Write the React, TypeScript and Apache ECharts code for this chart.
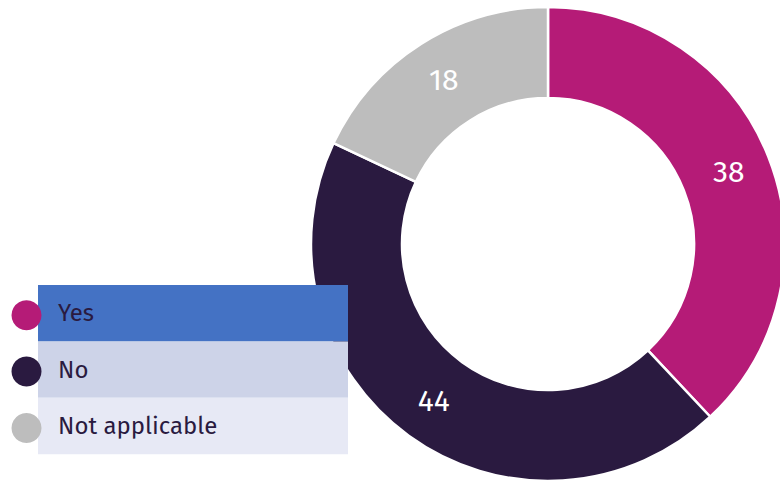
import React, { useEffect, useRef } from "react";
import * as echarts from "echarts";

const categories = ["Yes", "No", "Not applicable"];
const values = [38, 44, 18];
const sliceColors = ["#B51B77", "#2A1A40", "#BDBDBD"];
const legendBg = ["#4472C4", "#CDD3E8", "#E7E9F5"];

const FONT = "'Fira Sans', 'Noto Sans', 'Open Sans', sans-serif";

export default function App() {
  const ref = useRef<HTMLDivElement>(null);
  useEffect(() => {
    if (!ref.current) return;
    const chart = echarts.init(ref.current, undefined, { renderer: "svg" });
    const rowTop = 285;
    const rowH = 56.4;
    const graphics: any[] = [];
    categories.forEach((c, i) => {
      const y = rowTop + i * rowH;
      graphics.push({
        type: "rect",
        z: 100,
        shape: { x: 38, y, width: 310, height: rowH },
        style: { fill: legendBg[i] },
      });
      graphics.push({
        type: "circle",
        z: 101,
        shape: { cx: 26.5, cy: y + rowH / 2 + 2, r: 15 },
        style: { fill: sliceColors[i] },
      });
      graphics.push({
        type: "text",
        z: 102,
        x: 58,
        y: y + rowH / 2,
        style: {
          text: c,
          fill: "#2A1A40",
          font: `24px ${FONT}`,
          textVerticalAlign: "middle",
          textAlign: "left",
        },
      });
    });
    chart.setOption({
      animation: false,
      backgroundColor: "#ffffff",
      series: [
        {
          type: "pie",
          center: [548, 244],
          radius: [146, 237],
          startAngle: 90,
          clockwise: true,
          label: {
            show: true,
            position: "inside",
            formatter: "{c}",
            color: "#ffffff",
            fontSize: 30,
            fontWeight: "normal",
            fontFamily: FONT,
          },
          labelLine: { show: false },
          itemStyle: { borderColor: "#ffffff", borderWidth: 2.5 },
          emphasis: { disabled: true },
          data: categories.map((c, i) => ({
            name: c,
            value: values[i],
            itemStyle: { color: sliceColors[i] },
          })),
        },
      ],
      graphic: graphics,
    });
    return () => chart.dispose();
  }, []);
  return <div ref={ref} style={{ width: 780, height: 481, position: "absolute", left: 0, top: 0 }} />;
}
